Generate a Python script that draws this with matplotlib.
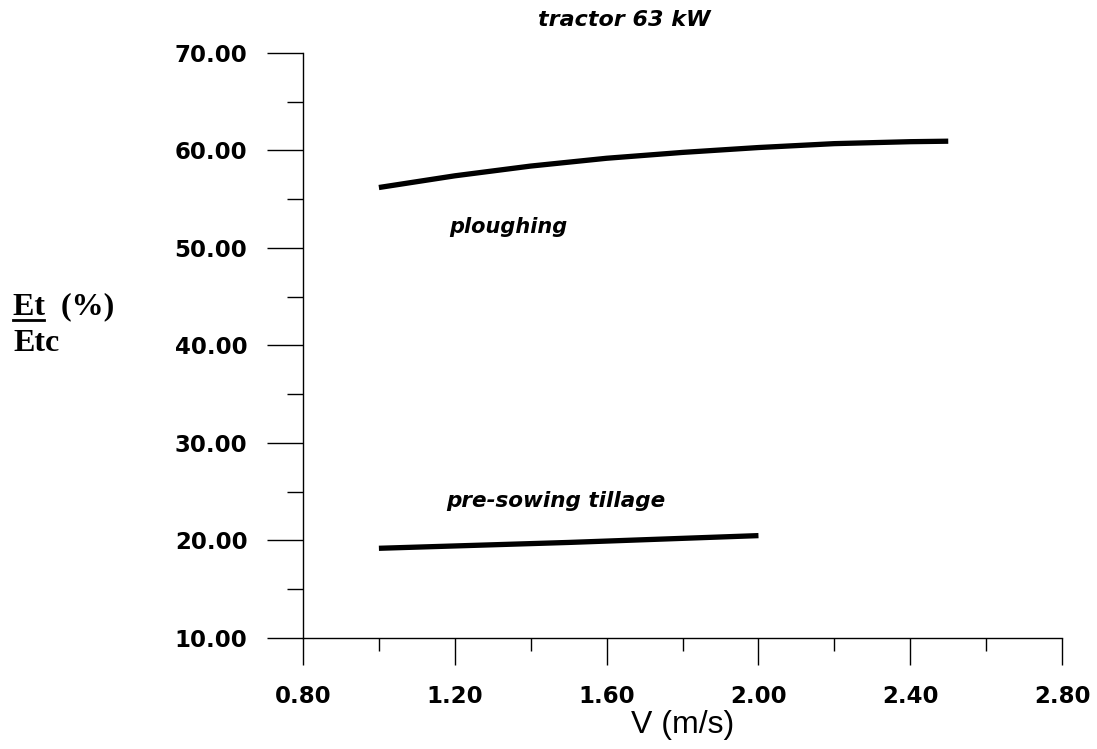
import matplotlib
matplotlib.use("Agg")
import matplotlib.pyplot as plt
from matplotlib.lines import Line2D
from matplotlib.ticker import MultipleLocator, FormatStrFormatter

# speed (m/s) and Et/Etc (%)
ploughing_v = [1.0, 1.2, 1.4, 1.6, 1.8, 2.0, 2.2, 2.4, 2.5]
ploughing_e = [56.2, 57.4, 58.4, 59.2, 59.8, 60.3, 60.7, 60.9, 60.95]

tillage_v = [1.0, 1.25, 1.5, 1.75, 2.0]
tillage_e = [19.2, 19.5, 19.8, 20.15, 20.5]

x_major = [0.8, 1.2, 1.6, 2.0, 2.4, 2.8]
y_major = [10, 20, 30, 40, 50, 60, 70]

fig = plt.figure(figsize=(10.97, 7.49), dpi=100)
ax = fig.add_axes([0.2762, 0.1482, 0.6920, 0.7811])

ax.plot(ploughing_v, ploughing_e, color="black", lw=3.8, solid_capstyle="butt")
ax.plot(tillage_v, tillage_e, color="black", lw=3.8, solid_capstyle="butt")

ax.set_xlim(0.8, 2.8)
ax.set_ylim(10, 70)
ax.set_xticks(x_major)
ax.set_yticks(y_major)
ax.xaxis.set_minor_locator(MultipleLocator(0.2))
ax.yaxis.set_minor_locator(MultipleLocator(5))
ax.xaxis.set_major_formatter(FormatStrFormatter("%.2f"))
ax.yaxis.set_major_formatter(FormatStrFormatter("%.2f"))

for s in ["top", "right"]:
    ax.spines[s].set_visible(False)
for s in ["left", "bottom"]:
    ax.spines[s].set_linewidth(1.0)

ax.tick_params(axis="x", which="major", direction="out", length=19.5, width=1.0, pad=14)
ax.tick_params(axis="x", which="minor", direction="out", length=9.5, width=1.0)
ax.tick_params(axis="y", which="major", direction="out", length=26, width=1.0, pad=14)
ax.tick_params(axis="y", which="minor", direction="out", length=11.5, width=1.0)
for lab in ax.get_xticklabels() + ax.get_yticklabels():
    lab.set_fontfamily("DejaVu Sans")
    lab.set_fontweight("bold")
    lab.set_fontsize(16.5)

ax.set_xlabel("V (m/s)", fontsize=23, family="Liberation Sans", labelpad=2)

# curve labels
ax.text(1.34, 52.1, "ploughing", fontsize=15, family="DejaVu Sans",
        weight="bold", style="italic", ha="center", va="center")
ax.text(1.466, 24.1, "pre-sowing tillage", fontsize=15.5, family="DejaVu Sans",
        weight="bold", style="italic", ha="center", va="center")

fig.text(0.569, 0.973, "tractor 63 kW", fontsize=16, family="DejaVu Sans",
         weight="bold", style="italic", ha="center", va="center")

# y label drawn as Et / Etc with an underline under Et
fig.text(0.012, 0.590, "Et  (%)", fontsize=23, family="Liberation Serif",
         weight="bold", ha="left", va="center")
fig.text(0.012, 0.541, "Etc", fontsize=23, family="Liberation Serif",
         weight="bold", ha="left", va="center")
fig.add_artist(Line2D([0.012, 0.040], [0.5725, 0.5725], color="black", lw=2.0))

fig.savefig("out.png", dpi=100)
